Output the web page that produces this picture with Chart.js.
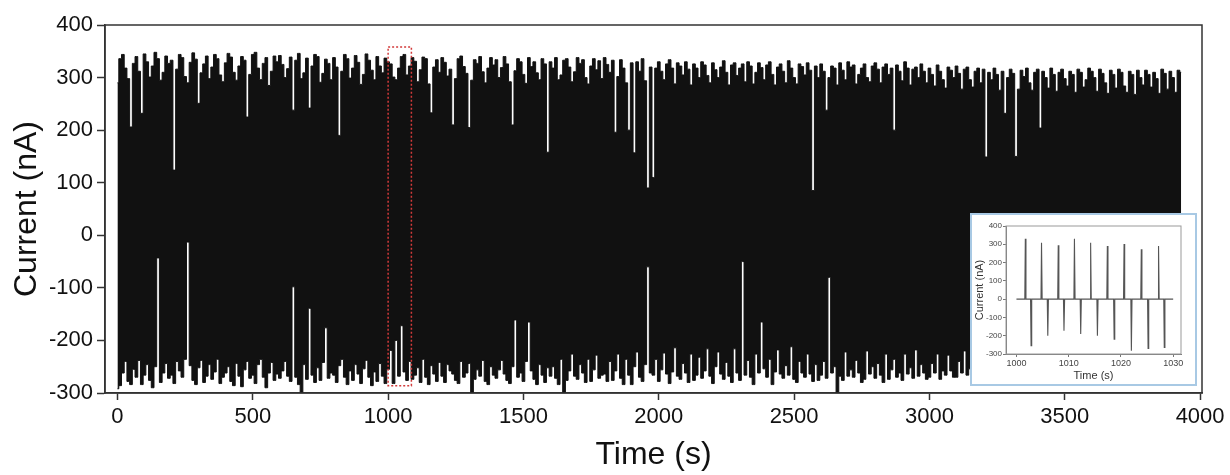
<!DOCTYPE html>
<html>
<head>
<meta charset="utf-8">
<script src="https://cdn.jsdelivr.net/npm/chart.js@4.4.1/dist/chart.umd.min.js"></script>
<style>
  body { margin: 0; background: #fff; }
  #wrap { position: relative; width: 1230px; height: 475px; }
  #mainBox { position: absolute; left: 0; top: 0; width: 1230px; height: 475px; }
  #insetBox { position: absolute; left: 970px; top: 213px; width: 227px; height: 173px;
              border: 2px solid #a8c9e4; box-sizing: border-box; background: #fff; }
  #insetInner { position: relative; width: 223px; height: 169px; }
</style>
</head>
<body>
<div id="wrap">
  <div id="mainBox"><canvas id="mainChart"></canvas></div>
  <div id="insetBox"><div id="insetInner"><canvas id="insetChart"></canvas></div></div>
</div>
<script>
// main trace, one sample every 10 s starting at 0 s (spike maxima / minima)
const sampleStep = 10;
const tops = [
  290, 336, 344, 318, 298, 206, 327, 340, 312, 232, 345, 330, 301, 322, 348, 336, 295, 310, 341, 327,
  333, 124, 316, 344, 338, 302, 290, 329, 347, 335, 251, 309, 326, 341, 298, 320, 344, 336, 305, 292,
  328, 346, 339, 310, 295, 322, 340, 333, 225, 306, 344, 348, 318, 296, 327, 338, 285, 312, 341, 330,
  342, 325, 300, 317, 339, 238, 333, 346, 298, 309, 337, 242, 322, 344, 340, 291, 308, 335, 327, 296,
  338, 320, 190, 312, 344, 336, 299, 318, 342, 329, 287, 306, 345, 333, 314, 296, 340, 322, 309, 337,
  330, 326, 301, 296, 318, 340, 344, 305, 322, 338, 331, 292, 315, 339, 336, 288, 233, 320, 334, 310,
  338, 329, 303, 316, 210, 298, 336, 341, 321, 308, 205, 295, 334, 327, 340, 311, 290, 318, 338, 324,
  334, 300, 319, 340, 326, 292, 210, 313, 336, 330, 306, 289, 338, 321, 330, 309, 296, 336, 326, 158,
  330, 318, 338, 296, 305, 333, 336, 320, 292, 311, 338, 327, 334, 300, 288, 322, 336, 315, 332, 298,
  338, 325, 310, 333, 196, 302, 334, 318, 290, 200, 328, 157, 330, 312, 336, 294, 90, 320, 110, 318,
  330, 312, 296, 326, 334, 318, 288, 328, 322, 305, 330, 316, 286, 326, 318, 300, 330, 324, 304, 290,
  328, 315, 300, 320, 332, 310, 286, 324, 328, 304, 318, 326, 292, 330, 322, 288, 310, 328, 319, 296,
  324, 330, 306, 286, 320, 326, 312, 290, 332, 318, 300, 288, 326, 321, 305, 328, 314, 85, 322, 300,
  326, 312, 238, 300, 322, 318, 286, 328, 314, 296, 330, 320, 324, 288, 306, 318, 326, 300, 292, 322,
  328, 316, 290, 320, 326, 306, 318, 200, 324, 312, 294, 330, 318, 286, 316, 320, 300, 326, 312, 290,
  318, 306, 284, 324, 312, 296, 280, 320, 314, 300, 322, 308, 278, 316, 320, 296, 282, 312, 318, 290,
  316, 149, 310, 296, 318, 306, 276, 312, 232, 300, 316, 308, 150, 278, 314, 302, 318, 290, 276, 310,
  316, 204, 312, 300, 280, 318, 306, 274, 310, 316, 298, 284, 312, 306, 272, 316, 310, 282, 296, 318,
  312, 300, 274, 316, 308, 290, 270, 314, 306, 280, 316, 310, 284, 272, 312, 306, 268, 314, 300, 286,
  314, 306, 282, 310, 298, 270, 316, 308, 278, 312, 300, 272, 314, 310
];
const bottoms = [
  -292, -286, -262, -240, -278, -284, -255, -270, -238, -284, -266, -246, -276, -290, -250, -43, -280, -262, -244, -272,
  -266, -282, -240, -258, -270, -236, -13, -248, -276, -284, -252, -238, -280, -268, -246, -274, -260, -236, -282, -270,
  -262, -250, -278, -286, -244, -268, -288, -256, -240, -272, -266, -282, -246, -236, -270, -290, -262, -242, -276, -264,
  -272, -258, -240, -268, -278, -98, -270, -284, -300, -246, -274, -139, -266, -280, -252, -276, -242, -176, -272, -262,
  -266, -280, -248, -236, -270, -284, -258, -276, -246, -264, -282, -254, -238, -270, -286, -260, -278, -244, -268, -282,
  -255, -219, -282, -200, -268, -172, -260, -276, -240, -274, -266, -252, -280, -236, -270, -284, -248, -264, -278, -242,
  -268, -280, -246, -258, -264, -276, -282, -240, -270, -262, -244, -300, -274, -256, -268, -238, -278, -284, -250, -266,
  -272, -256, -238, -264, -276, -282, -250, -161, -270, -262, -278, -240, -165, -258, -274, -284, -246, -266, -280, -252,
  -268, -250, -272, -284, -236, -300, -276, -258, -226, -268, -274, -246, -262, -280, -236, -278, -256, -228, -272, -266,
  -264, -278, -240, -276, -258, -226, -272, -284, -236, -266, -284, -250, -222, -270, -278, -246, -60, -262, -266, -236,
  -278, -256, -224, -264, -282, -260, -214, -268, -274, -244, -262, -280, -226, -276, -266, -232, -272, -258, -216, -268,
  -282, -250, -222, -264, -274, -242, -268, -280, -216, -262, -276, -50, -266, -238, -270, -284, -226, -262, -165, -254,
  -270, -236, -284, -260, -218, -264, -272, -248, -266, -212, -274, -280, -240, -262, -270, -226, -264, -278, -246, -276,
  -266, -240, -272, -80, -262, -250, -300, -268, -276, -222, -268, -256, -270, -238, -262, -280, -274, -220, -264, -250,
  -272, -244, -266, -280, -226, -274, -256, -236, -270, -262, -276, -226, -264, -252, -272, -218, -268, -246, -262, -274,
  -270, -244, -262, -226, -274, -258, -266, -228, -258, -270, -270, -240, -262, -220, -266, -254, -258, -230, -264, -248,
  -260, -236, -266, -252, -256, -220, -262, -248, -254, -232, -264, -250, -258, -222, -262, -246, -252, -236, -260, -244,
  -258, -238, -262, -224, -254, -248, -260, -230, -256, -244, -262, -220, -252, -246, -258, -232, -260, -242, -254, -226,
  -260, -244, -256, -228, -262, -240, -252, -222, -258, -246, -260, -232, -254, -242, -256, -224, -262, -246, -254, -230,
  -258, -240, -262, -226, -254, -246, -260, -232, -256, -244, -262, -228, -254, -240
];
const xTickValues = [0, 500, 1000, 1500, 2000, 2500, 3000, 3500, 4000];
const yTickValues = [-300, -200, -100, 0, 100, 200, 300, 400];
const zoomWindow = { from: 1000, to: 1086, low: -286, high: 358 };

// inset: 1000-1030 s
const peakTimes = [1001.7, 1004.8, 1008.0, 1011.1, 1014.2, 1017.4, 1020.6, 1023.9, 1027.2];
const peakValues = [330, 309, 295, 330, 309, 291, 301, 273, 291];
const troughTimes = [1002.8, 1006.0, 1009.1, 1012.3, 1015.5, 1018.7, 1022.0, 1025.2, 1028.3];
const troughValues = [-255, -200, -173, -191, -200, -219, -282, -269, -264];
const insetXTicks = [1000, 1010, 1020, 1030];
const insetStart = 1000, insetEnd = 1030;

const font = "'Liberation Sans', Arial, sans-serif";
const plain = v => String(v);

const frame = {
  id: 'frame',
  afterDraw(chart, args, opts) {
    const { ctx, chartArea: a } = chart;
    ctx.save();
    ctx.strokeStyle = opts.color;
    ctx.lineWidth = opts.width;
    ctx.strokeRect(a.left, a.top, a.right - a.left, a.bottom - a.top);
    ctx.restore();
  }
};

const zoomMark = {
  id: 'zoomMark',
  afterDatasetsDraw(chart) {
    const { ctx, scales: { x, y } } = chart;
    const l = x.getPixelForValue(zoomWindow.from), r = x.getPixelForValue(zoomWindow.to);
    const t = y.getPixelForValue(zoomWindow.high), b = y.getPixelForValue(zoomWindow.low);
    ctx.save();
    ctx.strokeStyle = '#d23a3a';
    ctx.lineWidth = 1.5;
    ctx.setLineDash([2, 2]);
    ctx.strokeRect(l, t, r - l, b - t);
    ctx.restore();
  }
};

const topPoints = tops.map((v, i) => ({ x: i * sampleStep, y: v }));
const bottomPoints = bottoms.map((v, i) => ({ x: i * sampleStep, y: v }));

new Chart(document.getElementById('mainChart'), {
  type: 'line',
  data: {
    datasets: [
      { data: topPoints, borderColor: '#111', borderWidth: 1, pointRadius: 0, stepped: 'middle', fill: false },
      { data: bottomPoints, borderColor: '#111', backgroundColor: '#111', borderWidth: 1, pointRadius: 0, stepped: 'middle', fill: '-1' }
    ]
  },
  options: {
    responsive: true,
    maintainAspectRatio: false,
    animation: false,
    layout: { padding: { top: 25, right: 28, left: 0, bottom: 0 } },
    plugins: { legend: { display: false }, tooltip: { enabled: false }, frame: { color: '#333', width: 1.5 } },
    scales: {
      x: {
        type: 'linear', min: -46, max: 4007,
        afterBuildTicks: s => { s.ticks = xTickValues.map(v => ({ value: v })); },
        afterFit: s => { s.height = 82; },
        grid: { drawOnChartArea: false, tickLength: 7, tickColor: '#333', tickWidth: 1.5 },
        border: { color: '#333', width: 1.5 },
        ticks: { color: '#111', font: { family: font, size: 22 }, padding: 4, maxRotation: 0, callback: plain },
        title: { display: true, text: 'Time (s)', color: '#111', font: { family: font, size: 32 }, padding: { top: 0, bottom: 1 } }
      },
      y: {
        min: -300, max: 400,
        afterBuildTicks: s => { s.ticks = yTickValues.map(v => ({ value: v })); },
        afterFit: s => { s.width = 105; },
        grid: { drawOnChartArea: false, tickLength: 8, tickColor: '#333', tickWidth: 1.5 },
        border: { color: '#333', width: 1.5 },
        ticks: { color: '#111', font: { family: font, size: 22 }, padding: 4, callback: plain },
        title: { display: true, text: 'Current (nA)', color: '#111', font: { family: font, size: 32 }, padding: { top: 8, bottom: 0 } }
      }
    }
  },
  plugins: [frame, zoomMark]
});

// inset trace: flat baseline with sharp spikes
const insetEvents = peakTimes.map((t, i) => ({ t, v: peakValues[i] }))
  .concat(troughTimes.map((t, i) => ({ t, v: troughValues[i] })))
  .sort((a, b) => a.t - b.t);
const insetPoints = [{ x: insetStart, y: 0 }];
insetEvents.forEach(e => {
  insetPoints.push({ x: e.t - 0.1, y: 0 }, { x: e.t, y: e.v }, { x: e.t + 0.12, y: 0 });
});
insetPoints.push({ x: insetEnd, y: 0 });

new Chart(document.getElementById('insetChart'), {
  type: 'line',
  data: {
    datasets: [{ data: insetPoints, borderColor: '#555', borderWidth: 1.1, pointRadius: 0, tension: 0, fill: false }]
  },
  options: {
    responsive: true,
    maintainAspectRatio: false,
    animation: false,
    layout: { padding: { top: 11, right: 14, left: 0, bottom: 0 } },
    plugins: { legend: { display: false }, tooltip: { enabled: false }, frame: { color: '#999', width: 1 } },
    scales: {
      x: {
        type: 'linear', min: 998, max: 1031.5,
        afterBuildTicks: s => { s.ticks = insetXTicks.map(v => ({ value: v })); },
        afterFit: s => { s.height = 30; },
        grid: { drawOnChartArea: false, tickLength: 3, tickColor: '#777' },
        border: { color: '#777', width: 1 },
        ticks: { color: '#444', font: { family: font, size: 9 }, padding: 1, maxRotation: 0, callback: plain },
        title: { display: true, text: 'Time (s)', color: '#333', font: { family: font, size: 11 }, padding: { top: 0, bottom: 1 } }
      },
      y: {
        min: -300, max: 400,
        afterBuildTicks: s => { s.ticks = yTickValues.map(v => ({ value: v })); },
        afterFit: s => { s.width = 34; },
        grid: { drawOnChartArea: false, tickLength: 3, tickColor: '#777' },
        border: { color: '#777', width: 1 },
        ticks: { color: '#444', font: { family: font, size: 8 }, padding: 1, callback: plain },
        title: { display: true, text: 'Current (nA)', color: '#333', font: { family: font, size: 11 }, padding: { top: 1, bottom: 0 } }
      }
    }
  },
  plugins: [frame]
});
</script>
</body>
</html>
